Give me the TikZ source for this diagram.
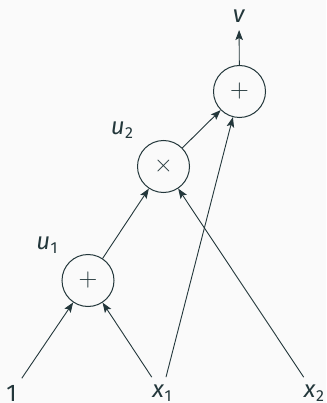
\documentclass[tikz,border=0pt]{standalone}
\usepackage{fontspec}
\setmainfont{Fira Sans}
\newfontfamily\lmfont{Latin Modern Roman}
\usetikzlibrary{arrows.meta}
\definecolor{mteal}{HTML}{23373B}
\definecolor{mbg}{HTML}{FAFAFA}
\newcommand\varsub[2]{\textit{#1}\kern0.5pt\raisebox{-4pt}{\fontsize{16}{16}\selectfont #2}}
\begin{document}
\begin{tikzpicture}[x=1pt,y=-1pt,
  every node/.style={text=mteal},
  op/.style={circle,draw=mteal,line width=1pt,minimum size=52pt,inner sep=0pt,font=\lmfont\fontsize{26}{26}\selectfont},
  lbl/.style={font=\fontsize{24}{24}\selectfont,inner sep=7pt},
  edge/.style={draw=mteal,line width=0.9pt,-{Stealth[length=10pt,width=7.5pt,inset=2pt]}}]
\fill[mbg] (0,0) rectangle (326,403);
\useasboundingbox (0,0) rectangle (326,403);
\node[op] (top) at (239.5,91.5) {+};
\node[op] (mul) at (163.5,166.5) {×};
\node[op] (low) at (88,280.5) {+};
\node[lbl] (v) at (239,16.5) {\textit{v}};
\node[lbl] (u2) at (122,130) {\varsub{u}{2}};
\node[lbl] (u1) at (47,245) {\varsub{u}{1}};
\node[lbl,anchor=base] (one) at (11.5,401.5) {1};
\node[lbl,anchor=base] (x1) at (162,397) {\varsub{x}{1}};
\node[lbl,anchor=base] (x2) at (314,397) {\varsub{x}{2}};
\draw[edge] (one) -- (low);
\draw[edge] (x1) -- (low);
\draw[edge] (x1) -- (top);
\draw[edge] (x2) -- (mul);
\draw[edge] (low) -- (mul);
\draw[edge] (mul) -- (top);
\draw[edge] (top) -- (v);
\end{tikzpicture}
\end{document}
